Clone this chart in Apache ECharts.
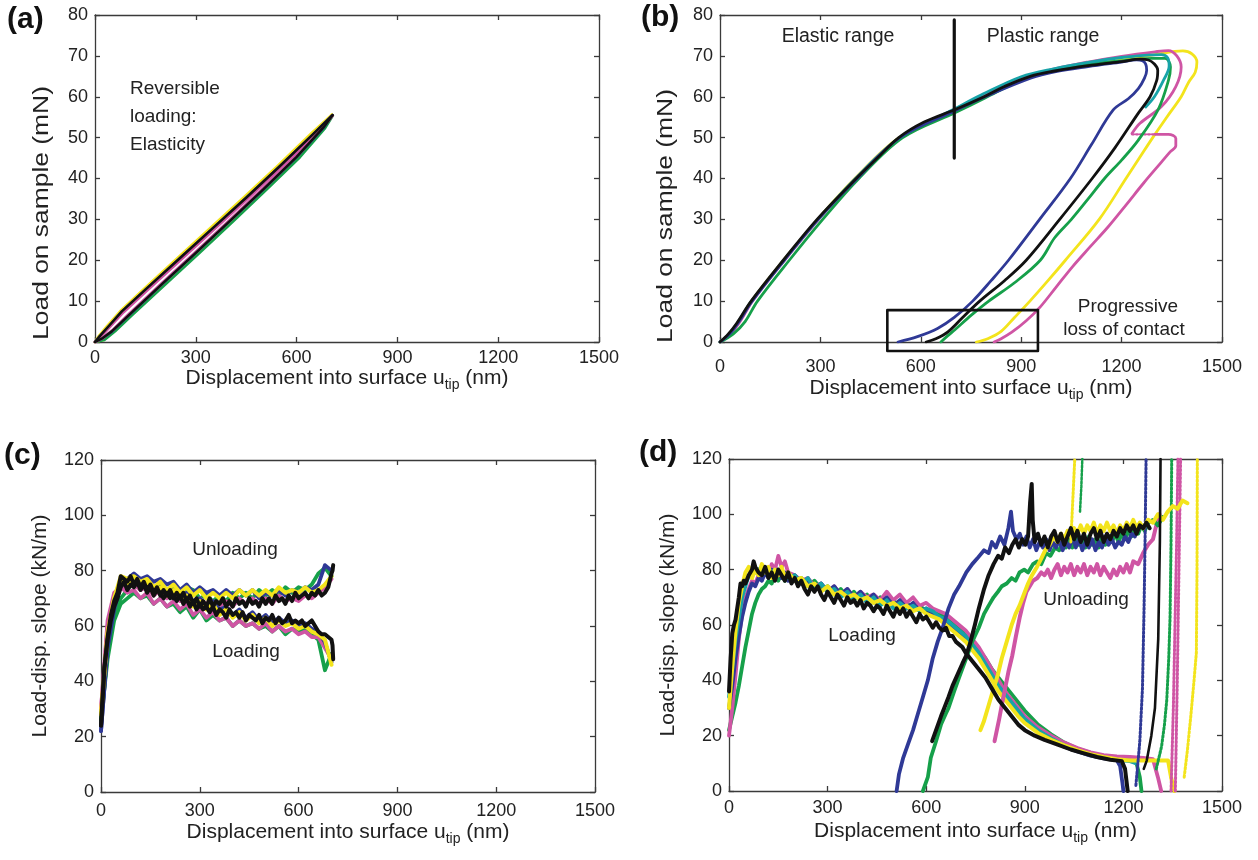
<!DOCTYPE html>
<html><head><meta charset="utf-8">
<script src="https://cdn.jsdelivr.net/npm/echarts@6/dist/echarts.min.js"></script>
<style>html,body{margin:0;padding:0;background:#fff}#c{width:1258px;height:860px}</style>
</head><body><div id="c"></div>
<script>
// ---------- tick labels / axes ----------
const xTicks = [0, 300, 600, 900, 1200, 1500];
const loadTicks = [0, 10, 20, 30, 40, 50, 60, 70, 80];
const slopeTicks = [0, 20, 40, 60, 80, 100, 120];

// ---------- panel (a): reversible loading (nm, mN) ----------
const aYellowUp = [[0,0],[12,1.5],[36,3.9],[75,7.5],[145,12.9],[245,20.5],[345,28],[445,35.5],[545,43.2],[645,51.1],[705,55.6]];
const aYellowLo = [[0,0],[25,0.5],[55,2.5],[105,6.4],[205,14.1],[305,21.7],[405,29.4],[505,37.2],[605,45.2],[682,52.4],[705,55.6]];
const aGreenUp = [[0,0],[16,1.4],[42,3.7],[82,7.4],[152,12.7],[252,20.2],[352,27.7],[452,35.2],[552,42.9],[652,50.8],[708,55.4]];
const aGreenLo = [[0,0],[28,0.5],[60,2.6],[110,6.5],[210,14.1],[310,21.7],[410,29.4],[510,37.2],[610,45.2],[685,52.3],[708,55.4]];
const aBlueUp = [[0,0],[15,1.5],[40,3.8],[80,7.5],[150,12.8],[250,20.3],[350,27.8],[450,35.3],[550,43],[650,50.9],[706,55.5]];
const aBlueLo = [[0,0],[21,0.8],[51,2.6],[101,6.5],[201,14.2],[301,21.8],[401,29.5],[501,37.3],[601,45.3],[681,52.5],[706,55.5]];
const aMagUp = [[0,0],[18,1.3],[45,3.8],[85,7.3],[155,12.6],[255,20.1],[355,27.6],[455,35.1],[555,42.8],[655,50.7],[707,55.4]];
const aMagLo = [[0,0],[22,0.9],[52,2.9],[100,6.8],[200,14.5],[300,22.1],[400,29.8],[500,37.6],[600,45.6],[680,52.7],[707,55.4]];
const aBlackUp = [[0,0],[15,1.5],[40,3.8],[80,7.5],[150,12.8],[250,20.3],[350,27.8],[450,35.3],[550,43],[650,50.9],[707,55.5]];
const aBlackLo = [[0,0],[20,0.8],[50,2.6],[100,6.5],[200,14.2],[300,21.8],[400,29.5],[500,37.3],[600,45.3],[680,52.5],[707,55.5]];

// ---------- panel (b): elastic-plastic loading/unloading (nm, mN) ----------
const bYellow = [[0,0],[30,2],[58,5],[94,10],[190,20],[292,30],[403,40],[535,50],[700,56.7],[786,60],[910,64.6],[1000,66.4],[1100,67.8],[1200,69],[1300,70.3],[1383,71.2],[1410,70.5],[1425,68.5],[1420,66],[1400,63.5],[1378,60],[1335,55],[1293,50],[1253,45],[1213,40],[1133,30],[1032,20],[980,15],[926,10],[880,6],[840,2.6],[800,0.8],[766,0]];
const bMagenta1 = [[0,0],[32,2],[60,5],[97,10],[193,20],[295,30],[405,40],[538,50],[700,56.6],[786,60],[900,64.5],[1000,66.8],[1100,68.5],[1200,69.9],[1300,71],[1340,71.3],[1365,70],[1378,67.3],[1362,62.5],[1319,57.6],[1255,53.5],[1231,51]];
const bMagentaDots = [[1231,50.8],[1300,50.8]];
const bMagenta2 = [[1300,50.8],[1340,50.8],[1362,49.8],[1362,48],[1345,46.5],[1319,44],[1266,38.9],[1213,33.5],[1160,28.2],[1105,23.2],[1053,18.4],[1005,13.5],[957,8.6],[915,5.2],[872,2.4],[840,0.8],[819,0]];
const bGreen = [[0,0],[40,2],[75,5],[112,10],[207,20],[307,30],[415,40],[546,50],[705,56.2],[792,59.7],[900,64],[1000,66.3],[1100,67.9],[1200,68.8],[1290,69.4],[1330,69.4],[1346,67.3],[1340,64],[1310,57],[1250,49.4],[1200,44.5],[1149,40],[1100,35],[1050,30],[1000,25.5],[957,20],[880,14.5],[803,10],[750,6.5],[702,3],[680,1.5],[660,0]];
const bTeal = [[0,0],[28,2],[55,5],[94,10],[191,20],[293,30],[405,40],[537,50],[700,57],[780,60.4],[900,64.9],[1000,66.9],[1100,68.4],[1200,69.6],[1280,70.2],[1319,70.3],[1338,69.5],[1342,67.5],[1325,64],[1298,60],[1272,57.5]];
const bBlue = [[0,0],[29,2],[57,5],[96,10],[192,20],[293,30],[410,40],[537,50],[703,56.6],[792,60],[930,64.6],[1000,66.1],[1100,67.4],[1200,68.5],[1245,69],[1262,68.8],[1272,68],[1275,66.5],[1268,64.5],[1250,62],[1220,59.5],[1175,56.8],[1110,48.3],[1047,40],[955,30],[862,20],[810,15],[755,10],[700,6],[650,3.3],[590,1.3],[532,0]];
const bBlack = [[0,0],[25,2],[50,4.6],[93,10],[189,20],[290,30],[407,40],[470,45],[534,50],[610,53.8],[701,56.8],[789,60],[850,62.5],[927,65],[1000,66.3],[1100,67.6],[1200,68.6],[1256,69.2],[1280,69],[1298,68],[1308,66.5],[1305,64],[1285,60],[1250,56],[1180,47.5],[1112,40],[1015,30],[915,20],[850,15],[776,10],[725,6],[681,2.5],[645,0.8],[616,0]];
const bDivider = [[700,45],[700,78.8]];
const bBox = [[500,-2.2],[950,-2.2],[950,7.8],[500,7.8],[500,-2.2]];

// ---------- panel (c): slope, reversible (nm, kN/m) ----------
const xsC10 = [0,10,20,30,40,50,60,70,80,90,100,110,120,130,140,150,160,170,180,190,200,210,220,230,240,250,260,270,280,290,300,310,320,330,340,350,360,370,380,390,400,410,420,430,440,450,460,470,480,490,500,510,520,530,540,550,560,570,580,590,600,610,620,630,640,650,660,670,680,690,700];
const xsC20 = [0,20,40,60,80,100,120,140,160,180,200,220,240,260,280,300,320,340,360,380,400,420,440,460,480,500,520,540,560,580,600,620,640,660,680,700];
const cBlackLoad = [24,45,55,62,67,70,74,76,73,75,74,76,73,75,72,74,71,73,72,70,72,70,71,69,71,68,70,67,69,66,68,66,67,65,67,64,66,65,63,66,64,65,63,65,62,64,63,62,64,61,63,62,64,61,63,61,62,64,61,62,61,62,60,61,62,60,58,57,57,56,55];
const cBlackLoadEnd = [[703,53],[705,48]];
const cBlackUnload = [24,44,56,64,69,72,78,77,76,78,75,77,74,76,73,75,72,74,71,73,71,73,70,72,70,72,69,71,68,70,67,69,67,70,67,69,68,70,67,69,67,70,68,69,67,70,68,69,67,70,68,70,68,71,69,70,68,71,69,72,70,71,72,70,72,71,73,71,72,74,79];
const cBlackUnloadEnd = [[703,80],[705,82]];
const cYellowLoad = [28,58,70,77,75,77,74,76,73,74,71,73,70,71,67,69,66,68,64,66,63,65,62,64,61,63,60,62,60,61,59,60,58,57,55,46];
const cYellowUnload = [28,57,70,78,77,78,76,77,74,76,73,75,72,74,71,73,70,72,70,72,70,73,71,73,71,73,71,74,72,73,72,74,72,73,75,78];
const cMagentaLoad = [30,62,72,74,72,73,70,72,68,70,67,69,66,68,64,66,63,65,62,63,60,62,60,61,59,61,58,60,58,59,57,58,56,56,52,48];
const cMagentaUnload = [30,60,71,75,74,75,73,74,71,73,70,72,69,71,68,70,68,69,67,69,67,70,68,70,68,70,68,71,69,70,69,71,70,72,74,77];
const cGreenLoad = [26,48,62,68,70,72,70,71,68,70,67,68,65,67,63,66,62,64,62,63,60,62,60,61,59,60,58,60,57,59,58,59,57,55,44,50];
const cGreenUnload = [26,50,64,70,73,76,75,74,73,75,72,74,71,74,73,70,71,69,71,69,72,70,72,70,73,71,73,71,74,72,74,73,75,79,81,78];
const cBlueLoad = [22,52,66,75,76,77,75,76,73,74,72,73,70,72,69,70,67,69,66,67,64,66,63,65,62,64,61,63,61,62,60,61,59,58,54,47];
const cBlueUnload = [22,53,67,76,77,79,77,78,76,77,75,76,73,75,72,74,72,73,71,73,71,73,71,73,70,72,71,73,71,73,72,74,73,75,82,80];

// ---------- panel (d): slope, elastic-plastic (nm, kN/m) ----------
const dGreenLoad = [[0,22],[10,27],[20,32],[30,38],[40,45],[50,52],[60,58],[70,64],[80,68],[90,71],[100,73],[110,74],[120,76],[130,75],[140,78],[150,76],[160,79],[170,76],[180,78],[200,76],[220,77],[240,74],[260,76],[280,73],[300,74],[320,71],[340,73],[360,70],[380,72],[400,69],[420,71],[440,68],[460,70],[480,67],[500,69],[520,66],[540,68],[560,66],[580,67],[600,65],[620,64],[640,64],[660,63],[680,61],[700,59],[720,57],[740,54],[760,51],[780,48],[800,44],[820,41],[840,38],[860,35],[880,32],[900,29],[940,24],[980,20.5],[1020,17.5],[1060,15.3],[1100,13.8],[1140,12.5],[1180,11.7],[1220,11.1],[1240,10],[1250,5],[1255,0]];
const dMagentaLoad = [[0,20],[10,30],[20,42],[30,55],[40,64],[50,70],[60,73],[70,76],[80,75],[90,78],[100,77],[110,80],[120,78],[130,82],[140,80],[150,85],[160,81],[170,83],[180,79],[200,78],[220,76],[240,77],[260,74],[280,75],[300,72],[320,74],[340,71],[360,73],[380,70],[400,72],[420,70],[440,71],[460,69],[480,72],[500,69],[520,71],[540,68],[560,70],[580,67],[600,68],[620,66],[640,65],[660,64],[680,62],[700,60],[720,58],[740,55],[760,52],[780,48],[800,44],[820,40],[840,36],[860,33],[880,30],[900,27],[940,23],[980,20],[1020,17.5],[1060,15.5],[1100,14],[1140,13],[1180,12.5],[1220,12.3],[1260,12],[1290,11.5],[1305,5],[1315,0]];
const dBlueLoad = [[0,30],[10,38],[20,48],[30,56],[40,63],[50,68],[60,72],[70,75],[80,74],[90,77],[100,76],[110,79],[120,77],[130,80],[140,78],[150,80],[160,77],[170,79],[180,76],[200,78],[220,75],[240,76],[260,73],[280,75],[300,72],[320,74],[340,71],[360,73],[380,70],[400,72],[420,69],[440,71],[460,68],[480,70],[500,67],[520,69],[540,66],[560,68],[580,65],[600,66],[620,64],[640,62],[660,61],[680,59],[700,57],[720,55],[740,52],[760,49],[780,45],[800,41],[820,37],[840,34],[860,31],[880,28],[900,25.5],[940,21.5],[980,18.5],[1020,16],[1060,14.3],[1100,12.8],[1140,11.8],[1180,11.2],[1190,9],[1197,3],[1200,0]];
const dTealLoad = [[0,34],[20,55],[40,70],[60,78],[80,79],[100,81],[120,78],[140,80],[160,79],[180,77],[200,78],[220,75],[240,77],[260,73],[280,75],[300,72],[320,73],[340,70],[360,72],[380,69],[400,71],[420,68],[440,70],[460,67],[480,69],[500,66],[520,68],[540,66],[560,67],[580,65],[600,66],[620,65],[640,63],[660,62],[680,60],[700,58],[720,56],[740,53],[760,50],[780,46],[800,42],[820,38],[840,35],[860,32],[880,29],[900,26],[940,22],[980,19],[1020,16.5],[1060,14.5],[1100,13],[1140,12],[1180,11.3],[1220,10.8],[1240,10]];
const dYellowLoad = [[0,30],[10,45],[20,58],[30,68],[40,74],[50,79],[60,81],[70,77],[80,80],[90,78],[100,82],[110,79],[120,81],[130,77],[140,80],[150,78],[160,81],[170,77],[180,79],[200,76],[220,77],[240,74],[260,75],[280,72],[300,74],[320,71],[340,72],[360,70],[380,71],[400,69],[420,70],[440,68],[460,69],[480,67],[500,68],[520,66],[540,67],[560,65],[580,66],[600,64],[620,63],[640,62],[660,60],[680,58],[700,56],[720,54],[740,51],[760,48],[780,44],[800,40],[820,36],[840,33],[860,30],[880,27],[900,24.5],[940,21],[980,18.5],[1020,16.5],[1060,14.8],[1100,13.3],[1140,12.3],[1180,11.5],[1220,11],[1260,11],[1300,11],[1336,11],[1345,5],[1355,0]];
const dBlackLoad = [[0,36],[5,48],[10,57],[15,60],[20,62],[25,66],[30,70],[35,75],[40,74],[45,76],[50,75],[60,78],[70,80],[75,83],[80,81],[90,79],[100,78],[110,81],[120,77],[130,79],[140,76],[150,80],[160,78],[170,76],[180,79],[190,75],[200,77],[210,74],[220,76],[230,73],[240,71],[250,74],[260,72],[270,74],[280,71],[290,69],[300,72],[310,70],[320,68],[330,71],[340,69],[350,67],[360,70],[370,68],[380,69],[390,67],[400,69],[410,66],[420,68],[430,67],[440,65],[450,67],[460,66],[470,64],[480,67],[490,65],[500,63],[510,66],[520,64],[530,66],[540,63],[550,65],[560,63],[570,61],[580,64],[590,62],[600,63],[610,61],[620,59],[630,61],[640,59],[650,58],[660,59],[670,56],[680,56],[690,54],[700,53],[710,52],[720,50],[740,47],[760,44],[780,41],[800,37],[820,33],[840,30],[860,27],[880,24],[900,22],[930,20],[960,18.5],[1000,16.8],[1040,15],[1080,13.6],[1120,12.3],[1160,11.3],[1195,10.8],[1205,8],[1210,3],[1213,0]];

const dBlueUnload = [[510,0],[517,6],[530,12],[545,17],[560,22],[575,28],[590,34],[605,40],[620,48],[635,54],[650,59],[668,66],[685,71],[700,74],[722,79],[740,82],[755,84],[776,87],[790,86],[800,90],[812,88],[825,92],[838,89],[850,95],[858,101],[864,94],[875,91],[885,93],[895,89],[905,92],[915,88],[925,91],[935,87],[945,90],[955,88],[965,91],[975,87],[985,90],[995,88],[1005,91],[1015,87],[1025,90],[1035,88],[1045,92],[1055,88],[1065,91],[1075,87],[1085,90],[1095,88],[1105,91],[1115,87],[1125,90],[1135,88],[1145,92],[1155,89],[1165,91],[1175,88],[1185,90],[1195,89],[1205,92],[1215,90],[1225,93],[1235,92],[1245,96]];
const dBlueRise = [[1238,2],[1250,18],[1258,37],[1263,67],[1266,91],[1269,120]];
const dGreenUnload = [[590,0],[605,5],[614,12],[630,18],[645,24],[660,28],[668,30],[685,36],[700,41],[722,48],[740,54],[760,59],[776,64],[790,67],[805,70],[818,72],[830,74],[845,75],[860,77],[872,76],[884,79],[898,80],[910,79],[925,82],[938,83],[950,82],[965,86],[978,85],[992,88],[1005,87],[1015,90],[1025,88],[1035,91],[1045,88],[1055,92],[1065,89],[1075,91],[1085,88],[1095,92],[1105,89],[1115,91],[1125,88],[1135,92],[1145,89],[1155,92],[1165,90],[1175,93],[1185,90],[1195,93],[1205,91],[1215,94],[1225,92],[1235,95],[1245,93],[1255,96],[1265,94],[1275,97],[1290,98],[1305,96],[1320,99]];
const dGreenRise = [[1300,8],[1316,16],[1325,24],[1332,33],[1338,48],[1342,63],[1345,90],[1347,120]];
const dGreenDots = [[1068,101],[1072,110],[1075,120]];
const dMagentaUnload = [[808,18],[815,22],[822,26],[830,31],[840,37],[850,43],[862,49],[873,56],[885,63],[895,68],[905,72],[915,74],[925,76],[938,77],[950,79],[960,78],[970,80],[980,77],[990,80],[1000,82],[1010,78],[1020,81],[1030,79],[1040,82],[1050,78],[1060,81],[1070,79],[1080,82],[1090,78],[1100,81],[1110,79],[1120,82],[1130,78],[1140,81],[1150,79],[1160,77],[1170,80],[1180,78],[1190,81],[1200,79],[1210,82],[1220,79],[1230,83],[1245,82],[1260,86],[1275,89],[1290,91],[1300,96],[1310,100]];
const dMagentaRise1 = [[1345,0],[1352,30],[1357,60],[1362,90],[1366,120]];
const dMagentaRise2 = [[1358,0],[1364,40],[1369,80],[1374,120]];
const dYellowUnload = [[765,22],[775,25],[790,31],[805,37],[818,42],[830,48],[845,54],[860,60],[872,64],[884,67],[897,71],[910,75],[922,78],[937,81],[950,84],[962,87],[975,89],[988,92],[1000,90],[1010,93],[1020,91],[1030,94],[1040,92],[1050,95],[1060,93],[1070,96],[1080,93],[1090,96],[1100,94],[1110,97],[1120,93],[1130,96],[1140,94],[1150,97],[1160,94],[1170,96],[1180,93],[1190,96],[1200,94],[1210,97],[1220,95],[1230,98],[1240,95],[1250,97],[1260,95],[1275,98],[1290,97],[1305,100],[1320,98],[1335,101],[1350,103],[1365,102],[1380,105],[1395,104]];
const dYellowSpike = [[1040,90],[1044,100],[1048,110],[1052,120]];
const dYellowRise = [[1385,5],[1395,15],[1405,27],[1415,40],[1422,50],[1424,80],[1425,120]];
const dBlackUnload = [[618,18],[630,22],[645,27],[655,30],[668,34],[680,38],[695,42],[710,46],[722,49],[735,54],[748,60],[760,66],[776,73],[790,78],[805,82],[819,85],[830,84],[840,88],[852,86],[862,89],[872,91],[882,88],[892,91],[902,89],[910,92],[916,104],[921,111],[924,98],[930,90],[940,93],[950,89],[960,92],[970,88],[980,92],[990,94],[1000,90],[1010,93],[1020,89],[1030,92],[1040,95],[1050,91],[1060,94],[1070,90],[1080,93],[1090,89],[1100,93],[1110,95],[1120,91],[1130,94],[1140,90],[1150,93],[1160,91],[1170,94],[1180,92],[1190,95],[1200,93],[1210,96],[1220,94],[1230,96],[1240,93],[1250,96],[1260,95],[1270,97],[1280,95]];
const dBlackRise = [[1262,8],[1271,11],[1285,20],[1296,30],[1306,55],[1311,90],[1313,120]];

// ---------- styling ----------
const FONT = "'Liberation Sans', Arial, Helvetica, sans-serif";
const AX = '#3a3a3a';
const COL = {black:'#111111', blue:'#2f3996', green:'#16a04a', yellow:'#f3e41c', magenta:'#cf55a4', teal:'#17a3a8'};

const grids = [
  {left:95, top:15, width:504, height:327},
  {left:720, top:15, width:502, height:327},
  {left:101, top:460, width:494, height:332},
  {left:729, top:459, width:493, height:332}
];

const xName = '{m|Displacement into surface u}{s|tip}{m| (nm)}';
const richName = {
  m:{fontSize:21, verticalAlign:'top', fontFamily:FONT, color:'#222'},
  s:{fontSize:14, verticalAlign:'top', padding:[10,0,0,0], fontFamily:FONT, color:'#222'}
};

function xMain(g, margin, gap){
  return {type:'value', gridIndex:g, min:0, max:1500, interval:300, position:'bottom',
    axisLine:{show:true, onZero:false, lineStyle:{color:AX, width:1.3}},
    axisTick:{show:true, inside:true, length:5, lineStyle:{color:AX, width:1.3}},
    axisLabel:{margin:margin, fontSize:18, color:'#222', fontFamily:FONT,
      formatter:(v)=> xTicks.includes(v) ? String(v) : ''},
    splitLine:{show:false},
    name:xName, nameLocation:'middle', nameGap:gap,
    nameTextStyle:{fontFamily:FONT, color:'#222', rich:richName}};
}
function xTop(g){
  return {type:'value', gridIndex:g, min:0, max:1500, interval:300, position:'top',
    axisLine:{show:true, onZero:false, lineStyle:{color:AX, width:1.3}},
    axisTick:{show:true, inside:true, length:5, lineStyle:{color:AX, width:1.3}},
    axisLabel:{show:false}, splitLine:{show:false}};
}
function yMain(g, max, interval, ticks, name, gap){
  const o = {type:'value', gridIndex:g, min:0, max:max, interval:interval, position:'left',
    axisLine:{show:true, onZero:false, lineStyle:{color:AX, width:1.3}},
    axisTick:{show:true, inside:true, length:5, lineStyle:{color:AX, width:1.3}},
    axisLabel:{margin:7, fontSize:18, color:'#222', fontFamily:FONT,
      formatter:(v)=> ticks.includes(v) ? String(v) : ''},
    splitLine:{show:false}};
  if (name){ o.name = name; o.nameLocation='middle'; o.nameGap=gap;
    o.nameTextStyle={fontSize:21, fontFamily:FONT, color:'#222'}; }
  return o;
}
function yRight(g, max, interval){
  return {type:'value', gridIndex:g, min:0, max:max, interval:interval, position:'right',
    axisLine:{show:true, onZero:false, lineStyle:{color:AX, width:1.3}},
    axisTick:{show:true, inside:true, length:5, lineStyle:{color:AX, width:1.3}},
    axisLabel:{show:false}, splitLine:{show:false}};
}

function ln(g, data, color, width, extra){
  return Object.assign({type:'line', xAxisIndex:g, yAxisIndex:g, data:data, symbol:'none',
    showSymbol:false, silent:true, animation:false,
    lineStyle:{color:color, width:width, join:'round', cap:'round'}, itemStyle:{color:color}}, extra||{});
}
function dots(g, data, color, width){
  return ln(g, data, color, width, {lineStyle:{color:color, width:width, type:[2,2], cap:'round'}});
}
const sm = {smooth:0.35};
const zip = (xs, ys) => xs.map((x,i)=>[x, ys[i]]);

const series = [
  // (a)
  ln(0, aYellowUp, COL.yellow, 2.8), ln(0, aYellowLo, COL.yellow, 2.8),
  ln(0, aGreenUp, COL.green, 2.5), ln(0, aGreenLo, COL.green, 2.5),
  ln(0, aBlueUp, COL.blue, 2.5), ln(0, aBlueLo, COL.blue, 2.5),
  ln(0, aMagUp, COL.magenta, 2.8), ln(0, aMagLo, COL.magenta, 2.8),
  ln(0, aBlackUp, COL.black, 2.5), ln(0, aBlackLo, COL.black, 2.5),
  // (b)
  ln(1, bYellow, COL.yellow, 2.8, sm), ln(1, bMagenta1, COL.magenta, 2.8, sm),
  dots(1, bMagentaDots, COL.magenta, 2.2), ln(1, bMagenta2, COL.magenta, 2.8, sm),
  ln(1, bGreen, COL.green, 2.8, sm), ln(1, bTeal, COL.teal, 2.8, sm),
  ln(1, bBlue, COL.blue, 2.8, sm), ln(1, bBlack, COL.black, 2.8, sm),
  ln(1, bDivider, COL.black, 3.2), ln(1, bBox, COL.black, 2.6, {clip:false}),
  // (c)
  ln(2, zip(xsC20, cGreenLoad), COL.green, 3.8), ln(2, zip(xsC20, cGreenUnload), COL.green, 3.8),
  ln(2, zip(xsC20, cMagentaLoad), COL.magenta, 3.8), ln(2, zip(xsC20, cMagentaUnload), COL.magenta, 3.8),
  ln(2, zip(xsC20, cBlueLoad), COL.blue, 3.8), ln(2, zip(xsC20, cBlueUnload), COL.blue, 3.8),
  ln(2, zip(xsC20, cYellowLoad), COL.yellow, 4), ln(2, zip(xsC20, cYellowUnload), COL.yellow, 4),
  ln(2, zip(xsC10, cBlackLoad).concat(cBlackLoadEnd), COL.black, 4),
  ln(2, zip(xsC10, cBlackUnload).concat(cBlackUnloadEnd), COL.black, 4),
  // (d)
  ln(3, dGreenLoad, COL.green, 3.8), ln(3, dMagentaLoad, COL.magenta, 3.8),
  ln(3, dBlueLoad, COL.blue, 3.8), ln(3, dTealLoad, COL.teal, 3.8),
  ln(3, dYellowLoad, COL.yellow, 4),
  ln(3, dMagentaUnload, COL.magenta, 4), dots(3, dMagentaRise1, COL.magenta, 3), dots(3, dMagentaRise2, COL.magenta, 3),
  ln(3, dGreenUnload, COL.green, 3.8), dots(3, dGreenRise, COL.green, 3), dots(3, dGreenDots, COL.green, 2.5),
  ln(3, dBlueUnload, COL.blue, 3.8), dots(3, dBlueRise, COL.blue, 3),
  ln(3, dYellowUnload, COL.yellow, 4), dots(3, dYellowSpike, COL.yellow, 3), dots(3, dYellowRise, COL.yellow, 3),
  ln(3, dBlackLoad, COL.black, 4), ln(3, dBlackUnload, COL.black, 4), ln(3, dBlackRise, COL.black, 2.6)
];

function txt(x, y, text, opt){
  opt = opt || {};
  const style = Object.assign({text:text, fontSize:19, fontFamily:FONT, fill:'#222', align:'center', verticalAlign:'middle'}, opt.style || {});
  const el = {type:'text', x:x, y:y, silent:true, style:style};
  Object.keys(opt).forEach(k => { if (k !== 'style') el[k] = opt[k]; });
  return el;
}
const bold = {style:{fontSize:30, fontWeight:'bold', align:'left', fill:'#111'}};
const graphic = [
  txt(7, 20, '(a)', bold),
  txt(641, 18, '(b)', bold),
  txt(4, 456, '(c)', bold),
  txt(639, 453, '(d)', bold),
  txt(42, 213, 'Load on sample (mN)', {rotation:Math.PI/2, scaleX:1.2, style:{fontSize:22}}),
  txt(666, 216, 'Load on sample (mN)', {rotation:Math.PI/2, scaleX:1.2, style:{fontSize:22}}),
  txt(130, 89, 'Reversible', {style:{align:'left'}}),
  txt(130, 117, 'loading:', {style:{align:'left'}}),
  txt(130, 145, 'Elasticity', {style:{align:'left'}}),
  txt(838, 37, 'Elastic range', {style:{fontSize:19.5}}),
  txt(1043, 37, 'Plastic range', {style:{fontSize:19.5}}),
  txt(1128, 307, 'Progressive'),
  txt(1124, 330, 'loss of contact'),
  txt(235, 550, 'Unloading'),
  txt(246, 652, 'Loading'),
  txt(862, 636, 'Loading'),
  txt(1086, 600, 'Unloading')
];

const chart = echarts.init(document.getElementById('c'), null, {renderer:'canvas'});
chart.setOption({
  backgroundColor:'#ffffff',
  animation:false,
  grid: grids.map(g => Object.assign({containLabel:false, outerBoundsMode:'none'}, g)),
  xAxis:[xMain(0, 7, 26), xMain(1, 16, 36), xMain(2, 10, 30), xMain(3, 8, 30), xTop(0), xTop(1), xTop(2), xTop(3)],
  yAxis:[yMain(0, 80, 10, loadTicks), yMain(1, 80, 10, loadTicks),
         yMain(2, 120, 20, slopeTicks, 'Load-disp. slope (kN/m)', 50),
         yMain(3, 120, 20, slopeTicks, 'Load-disp. slope (kN/m)', 50),
         yRight(0, 80, 10), yRight(1, 80, 10), yRight(2, 120, 20), yRight(3, 120, 20)],
  series: series,
  graphic: graphic
});
</script></body></html>
